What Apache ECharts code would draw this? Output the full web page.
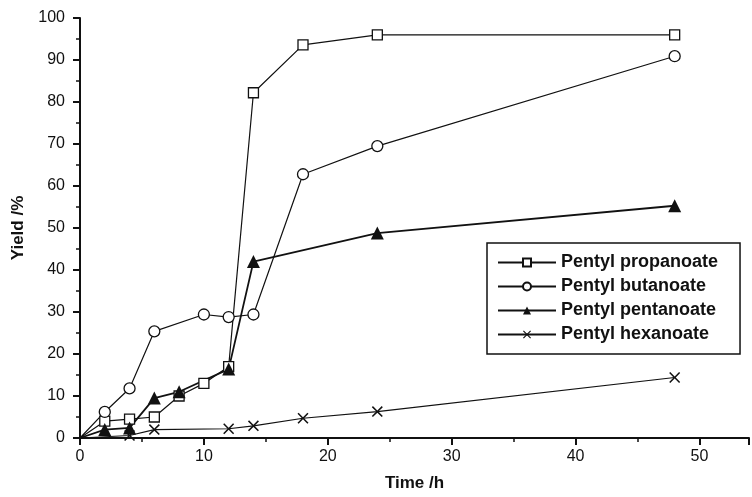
<!DOCTYPE html>
<html>
<head>
<meta charset="utf-8">
<script src="https://cdn.jsdelivr.net/npm/echarts@6/dist/echarts.min.js"></script>
<style>
  html, body { margin: 0; padding: 0; background: #fff; }
  #main { width: 752px; height: 497px; }
</style>
</head>
<body>
<div id="main"></div>
<script>
// 数据：时间(h) 与 产率(%)
var propTime = [0, 2, 4, 6, 8, 10, 12, 14, 18, 24, 48];
var propYield = [0, 4, 4.5, 5, 10, 13, 17, 82.2, 93.6, 96, 96];

var butTime = [0, 2, 4, 6, 10, 12, 14, 18, 24, 48];
var butYield = [0, 6.2, 11.8, 25.4, 29.4, 28.8, 29.4, 62.8, 69.5, 90.9];

var pentTime = [0, 2, 4, 6, 8, 12, 14, 24, 48];
var pentYield = [0, 2, 2.4, 9.5, 11, 16.4, 42, 48.8, 55.3];

var hexTime = [0, 4, 6, 12, 14, 18, 24, 48];
var hexYield = [0, 0.6, 2, 2.2, 2.9, 4.7, 6.3, 14.4];

var seriesNames = ['Pentyl propanoate', 'Pentyl butanoate', 'Pentyl pentanoate', 'Pentyl hexanoate'];
var xTicks = [0, 10, 20, 30, 40, 50];
var yTicks = [0, 10, 20, 30, 40, 50, 60, 70, 80, 90, 100];

// 原点不画标记
function pairs(xs, ys) {
  return xs.map(function (x, i) {
    var item = { value: [x, ys[i]] };
    if (x === 0) item.symbol = 'none';
    return item;
  });
}

var crossPath = 'path://M0,1L1,0L5,4L9,0L10,1L6,5L10,9L9,10L5,6L1,10L0,9L4,5Z';
var font = 'Liberation Sans, Arial, sans-serif';

var chart = echarts.init(document.getElementById('main'));

function lineSeries(name, data, symbol, size, width, filled) {
  return {
    name: name,
    type: 'line',
    data: data,
    symbol: symbol,
    symbolSize: size,
    showAllSymbol: true,
    z: 3,
    lineStyle: { color: '#111', width: width },
    itemStyle: {
      color: filled ? '#111' : '#fff',
      borderColor: '#111',
      borderWidth: filled ? 0 : 1.3
    },
    emphasis: { disabled: true }
  };
}

var option = {
  backgroundColor: '#fff',
  animation: false,
  grid: { left: 80, right: 0, top: 18, bottom: 56, containLabel: false },
  legend: {
    orient: 'vertical',
    left: 487,
    top: 243,
    padding: [10, 22, 10, 10],
    borderColor: '#111',
    borderWidth: 1.5,
    backgroundColor: '#fff',
    itemWidth: 58,
    itemHeight: 10,
    itemGap: 5,
    data: seriesNames,
    textStyle: { fontFamily: font, fontSize: 18, fontWeight: 'bold', color: '#111', lineHeight: 19 }
  },
  xAxis: {
    type: 'value',
    min: 0,
    max: 54,
    interval: 10,
    name: 'Time /h',
    nameLocation: 'middle',
    nameGap: 37,
    nameTextStyle: { fontFamily: font, fontSize: 17, fontWeight: 'bold', color: '#111' },
    axisLine: { show: true, lineStyle: { color: '#111', width: 2 } },
    axisTick: { show: true, length: 7, lineStyle: { color: '#111', width: 2 } },
    minorTick: { show: true, splitNumber: 2, length: 4, lineStyle: { color: '#111', width: 1.5 } },
    splitLine: { show: false },
    axisLabel: {
      fontFamily: font, fontSize: 16, color: '#111', margin: 11,
      formatter: function (v) { return xTicks.indexOf(v) >= 0 ? String(v) : ''; }
    }
  },
  yAxis: {
    type: 'value',
    min: 0,
    max: 100,
    interval: 10,
    name: 'Yield /%',
    nameLocation: 'middle',
    nameGap: 53,
    nameTextStyle: { fontFamily: font, fontSize: 17, fontWeight: 'bold', color: '#111' },
    axisLine: { show: true, lineStyle: { color: '#111', width: 2 } },
    axisTick: { show: true, length: 7, lineStyle: { color: '#111', width: 2 } },
    minorTick: { show: true, splitNumber: 2, length: 4, lineStyle: { color: '#111', width: 1.5 } },
    splitLine: { show: false },
    axisLabel: {
      fontFamily: font, fontSize: 16, color: '#111', margin: 15,
      formatter: function (v) { return yTicks.indexOf(v) >= 0 ? String(v) : ''; }
    }
  },
  series: [
    lineSeries(seriesNames[0], pairs(propTime, propYield), 'rect', 10, 1.2, false),
    lineSeries(seriesNames[1], pairs(butTime, butYield), 'circle', 11, 1.2, false),
    lineSeries(seriesNames[2], pairs(pentTime, pentYield), 'triangle', 13, 1.8, true),
    lineSeries(seriesNames[3], pairs(hexTime, hexYield), crossPath, 11, 1.2, true)
  ]
};

chart.setOption(option);
</script>
</body>
</html>
